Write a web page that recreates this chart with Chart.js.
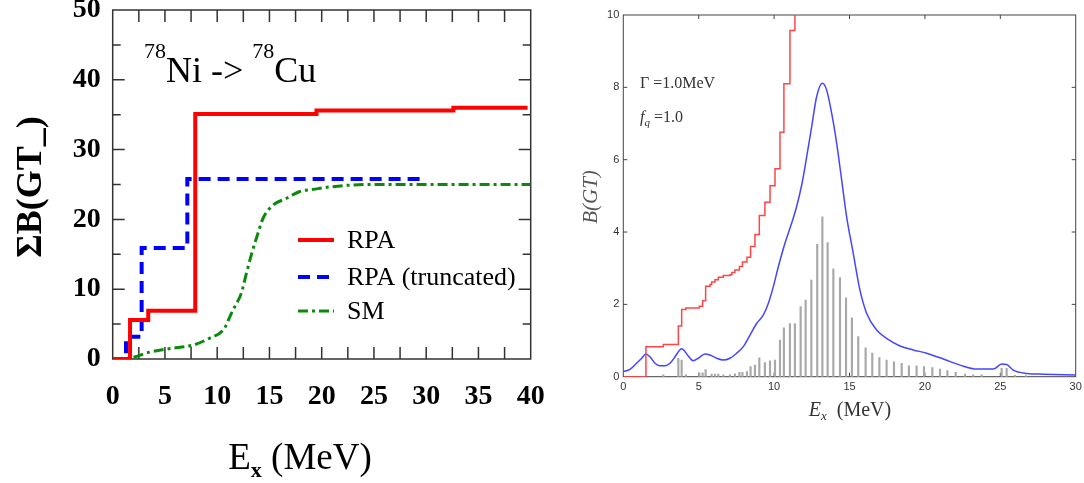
<!DOCTYPE html>
<html>
<head>
<meta charset="utf-8">
<title>78Ni GT strength</title>
<script src="https://cdn.jsdelivr.net/npm/chart.js@4.4.1/dist/chart.umd.min.js"></script>
<style>
  html, body { margin: 0; padding: 0; background: #fff; }
  #wrap { position: relative; width: 1084px; height: 483px; }
  .panel { position: absolute; top: 0; height: 483px; }
  #left { left: 0; width: 560px; }
  #right { left: 560px; width: 524px; }
</style>
</head>
<body>
<div id="wrap">
  <div class="panel" id="left"><canvas id="sumChart"></canvas></div>
  <div class="panel" id="right"><canvas id="gtChart"></canvas></div>
</div>
<script>
"use strict"

// left panel, running sum of B(GT-), steps: value jumps to Y at X
const rpaX = [0, 1.66, 3.4, 7.9, 19.5, 32.6, 39.7]
const rpaY = [0, 5.6, 6.9, 35.1, 35.6, 36.0, 36.0]
const truncX = [0, 1.27, 2.77, 7.14, 29.4]
const truncY = [0, 3.2, 15.9, 25.8, 25.8]
const smX = [0, 1.5, 3.6, 5.5, 7.7, 9.3, 10.6, 11.5, 12.3, 12.8, 13.3, 13.9, 14.4, 15.4, 16.6, 17.9, 19.2, 20.5, 24.3, 40]
const smY = [0, 0.1, 1.0, 1.5, 2.0, 3.0, 4.2, 7.0, 9.4, 12.3, 15.1, 18.0, 20.2, 22.1, 23.0, 24.0, 24.3, 24.6, 25.0, 25.0]
const sumLabels = ["RPA", "RPA (truncated)", "SM"]

// right panel, discrete B(GT) lines
const lineX = [2.65, 3.65, 3.87, 4.15, 5.04, 5.26, 5.46, 5.86, 6.08, 6.3, 6.63, 7.07, 7.4, 7.7, 7.9, 8.2, 8.44, 8.73, 9.02, 9.39,
  9.73, 10.06, 10.39, 10.65, 11.05, 11.38, 11.76, 12.09, 12.47, 12.86, 13.2, 13.55, 13.93, 14.37, 14.77, 15.16, 15.58, 16.07, 16.51, 16.98,
  17.46, 17.95, 18.46, 18.94, 19.45, 19.94, 20.49, 21.0, 21.49, 22.04, 22.66, 23.2, 23.76, 25.09, 25.42, 25.97, 26.7]
const lineY = [0.05, 0.51, 0.46, 0.05, 0.11, 0.11, 0.2, 0.07, 0.07, 0.07, 0.05, 0.05, 0.08, 0.12, 0.12, 0.14, 0.28, 0.32, 0.52, 0.39,
  0.44, 0.46, 1.01, 1.35, 1.47, 1.46, 1.94, 2.12, 2.67, 3.66, 4.42, 3.71, 2.98, 2.74, 2.18, 1.63, 1.11, 0.8, 0.65, 0.53,
  0.46, 0.41, 0.37, 0.3, 0.3, 0.28, 0.25, 0.21, 0.17, 0.12, 0.07, 0.05, 0.05, 0.23, 0.23, 0.04, 0.03]

// cumulative (red) — runs off the top of the frame
const cumX = [0, 1.5, 2.65, 3.65, 3.87, 4.15, 5.04, 5.26, 5.46, 5.75, 5.86, 6.08, 6.3, 6.63, 7.07, 7.2, 7.4, 7.7, 7.9, 8.2,
  8.44, 8.73, 9.02, 9.39, 9.73, 10.06, 10.39, 10.65, 11.05, 11.38]
const cumY = [0, 0.83, 0.89, 1.4, 1.86, 1.9, 1.95, 2.1, 2.5, 2.55, 2.62, 2.68, 2.75, 2.8, 2.82, 2.88, 2.95, 3.05, 3.17, 3.3,
  3.6, 3.93, 4.46, 4.82, 5.28, 5.75, 6.76, 8.1, 9.57, 11.5]

// folded with Gamma = 1.0 MeV (blue)
const foldX = [0, 0.44, 0.88, 1.22, 1.5, 1.77, 2.1, 2.43, 2.76, 3.1, 3.43, 3.7, 3.87, 4.05, 4.31, 4.64, 4.97, 5.42, 5.75, 6.19,
  6.63, 7.07, 7.52, 7.96, 8.4, 8.84, 9.28, 9.62, 9.95, 10.28, 10.72, 11.16, 11.49, 11.83, 12.16, 12.49, 12.82, 13.2, 13.48, 13.82,
  14.15, 14.48, 14.81, 15.25, 15.69, 16.14, 16.8, 17.46, 18.35, 19.23, 20.11, 21.22, 22.33, 23.43, 24.54, 25.09, 25.42, 25.86, 26.75, 27.85, 30]
const foldY = [0.14, 0.2, 0.37, 0.51, 0.63, 0.55, 0.37, 0.3, 0.3, 0.37, 0.55, 0.72, 0.77, 0.72, 0.57, 0.44, 0.51, 0.63, 0.6, 0.51,
  0.46, 0.51, 0.65, 0.83, 1.15, 1.47, 1.7, 2.03, 2.49, 3.04, 3.69, 4.24, 4.7, 5.3, 6.08, 6.91, 7.74, 8.11, 7.93, 7.28,
  6.45, 5.44, 4.42, 3.41, 2.4, 1.75, 1.29, 1.06, 0.85, 0.74, 0.65, 0.49, 0.32, 0.21, 0.21, 0.35, 0.34, 0.18, 0.09, 0.07, 0.05]

const SERIF = "'Liberation Serif', 'Times New Roman', serif"
const SANS = "'Liberation Sans', Arial, sans-serif"

function points(xs, ys) {
  return xs.map((x, i) => ({x: x, y: ys[i]}))
}

// fixed axis size, and no extra room asked for the end labels
function fixSize(w, h) {
  return function(s) {
    if (w) s.width = w
    if (h) s.height = h
    s.paddingTop = 0
    s.paddingBottom = 0
    s.paddingLeft = 0
    s.paddingRight = 0
  }
}

// draws text pieces one after another, each with its own font and baseline shift
function richText(ctx, parts, x, y, align) {
  let w = 0
  parts.forEach(p => { ctx.font = p[1]; w += ctx.measureText(p[0]).width })
  let cx = align === "center" ? x - w / 2 : x
  ctx.textAlign = "left"
  ctx.textBaseline = "alphabetic"
  parts.forEach(p => {
    ctx.font = p[1]
    ctx.fillText(p[0], cx, y + (p[2] || 0))
    cx += ctx.measureText(p[0]).width
  })
}

// box round the plot area with ticks pointing inwards on all four sides
function drawFrame(chart, st) {
  const ctx = chart.ctx
  const a = chart.chartArea
  const xs = chart.scales.x
  const ys = chart.scales.y
  ctx.save()
  ctx.strokeStyle = st.color
  ctx.lineWidth = st.width
  ctx.strokeRect(a.left, a.top, a.right - a.left, a.bottom - a.top)
  ctx.beginPath()
  for (let v = xs.min + st.xStep; v < xs.max; v += st.xStep) {
    const px = xs.getPixelForValue(v)
    ctx.moveTo(px, a.bottom); ctx.lineTo(px, a.bottom - st.xLen)
    ctx.moveTo(px, a.top); ctx.lineTo(px, a.top + st.xLen)
  }
  for (let v = ys.min + st.yStep; v < ys.max; v += st.yStep) {
    const py = ys.getPixelForValue(v)
    const len = (v % st.yMajor === 0) ? st.yLen : st.yMinorLen
    ctx.moveTo(a.left, py); ctx.lineTo(a.left + len, py)
    ctx.moveTo(a.right, py); ctx.lineTo(a.right - len, py)
  }
  ctx.stroke()
  ctx.restore()
}

const sumDecor = {
  id: "sumDecor",
  beforeDatasetsDraw(chart) {
    drawFrame(chart, {color: "#333", width: 1.5, xStep: 2.5, xLen: 12, yStep: 5, yMajor: 10, yLen: 12, yMinorLen: 8})
  },
  afterDraw(chart) {
    const ctx = chart.ctx
    ctx.save()
    ctx.fillStyle = "#000"
    richText(ctx, [["78", "22px " + SERIF, -24], ["Ni", "36px " + SERIF], [" -> ", "36px " + SERIF],
      ["78", "22px " + SERIF, -24], ["Cu", "36px " + SERIF]], 144, 82)
    richText(ctx, [["E", "37px " + SERIF], ["x", "bold 22px " + SERIF, 8], [" (MeV)", "37px " + SERIF]], 300, 469, "center")

    ctx.save()
    ctx.translate(32, 187)
    ctx.rotate(-Math.PI / 2)
    ctx.font = "bold 36px " + SERIF
    ctx.textAlign = "center"
    ctx.textBaseline = "middle"
    ctx.fillText("ΣB(GT_)", 0, 0)
    ctx.restore()

    // legend
    const rows = [240, 277, 311]
    chart.data.datasets.forEach((ds, i) => {
      ctx.beginPath()
      ctx.strokeStyle = ds.borderColor
      ctx.lineWidth = ds.borderWidth
      ctx.setLineDash(ds.borderDash || [])
      ctx.moveTo(298, rows[i])
      ctx.lineTo(334, rows[i])
      ctx.stroke()
      ctx.setLineDash([])
      ctx.font = "26px " + SERIF
      ctx.textAlign = "left"
      ctx.textBaseline = "middle"
      ctx.fillText(ds.label, 347, rows[i] + 1)
    })
    ctx.restore()
  }
}

const gtDecor = {
  id: "gtDecor",
  beforeDatasetsDraw(chart) {
    drawFrame(chart, {color: "#444", width: 1, xStep: 5, xLen: 4, yStep: 2, yMajor: 2, yLen: 4, yMinorLen: 4})
  },
  afterDraw(chart) {
    const ctx = chart.ctx
    ctx.save()
    ctx.fillStyle = "#333"
    richText(ctx, [["Γ =1.0MeV", "16px " + SERIF]], 80, 88)
    richText(ctx, [["f", "italic 16px " + SERIF], ["q", "italic 11px " + SERIF, 4], [" =1.0", "16px " + SERIF]], 80, 122)
    richText(ctx, [["E", "italic 20px " + SERIF], ["x", "italic 13px " + SERIF, 4], ["  (MeV)", "20px " + SERIF]], 290, 416, "center")

    ctx.translate(31, 197)
    ctx.rotate(-Math.PI / 2)
    ctx.fillStyle = "#555"
    ctx.font = "italic 21px " + SERIF
    ctx.textAlign = "center"
    ctx.textBaseline = "middle"
    ctx.fillText("B(GT)", 0, 0)
    ctx.restore()
  }
}

const sumChart = new Chart(document.getElementById("sumChart"), {
  type: "line",
  data: {
    datasets: [
      {label: sumLabels[0], data: points(rpaX, rpaY), stepped: true, borderColor: "#ff0000", borderWidth: 4, pointRadius: 0},
      {label: sumLabels[1], data: points(truncX, truncY), stepped: true, borderColor: "#0000ff", borderWidth: 4,
        borderDash: [12, 7], pointRadius: 0},
      {label: sumLabels[2], data: points(smX, smY), cubicInterpolationMode: "monotone", borderColor: "#0a8a0a", borderWidth: 3,
        borderDash: [10, 4, 3, 4], pointRadius: 0}
    ]
  },
  options: {
    responsive: true,
    maintainAspectRatio: false,
    animation: false,
    layout: {padding: {left: 0, right: 29.3, top: 10, bottom: 0}},
    plugins: {legend: {display: false}, tooltip: {enabled: false}},
    scales: {
      x: {
        type: "linear", min: 0, max: 40, offset: false,
        grid: {display: false, drawTicks: false}, border: {display: false},
        ticks: {stepSize: 5, padding: 21, color: "#000", maxRotation: 0,
          font: {family: SERIF, size: 28, weight: "bold"}},
        afterFit: fixSize(0, 124)
      },
      y: {
        min: 0, max: 50,
        grid: {display: false, drawTicks: false}, border: {display: false},
        ticks: {stepSize: 10, padding: 12, color: "#000",
          font: {family: SERIF, size: 28, weight: "bold"}},
        afterFit: fixSize(112.7, 0)
      }
    }
  },
  plugins: [sumDecor]
})

const gtChart = new Chart(document.getElementById("gtChart"), {
  type: "line",
  data: {
    datasets: [
      {label: "cumulative", data: points(cumX, cumY), stepped: true, borderColor: "#ff4545", borderWidth: 1.5, pointRadius: 0},
      {label: "folded", data: points(foldX, foldY), cubicInterpolationMode: "monotone", borderColor: "#4545ff", borderWidth: 1.5, pointRadius: 0},
      {type: "bar", label: "B(GT)", data: points(lineX, lineY), backgroundColor: "#a8a8a8", barThickness: 1.5, grouped: false}
    ]
  },
  options: {
    responsive: true,
    maintainAspectRatio: false,
    animation: false,
    layout: {padding: {left: 0, right: 8.3, top: 15, bottom: 0}},
    plugins: {legend: {display: false}, tooltip: {enabled: false}},
    scales: {
      x: {
        type: "linear", min: 0, max: 30, offset: false,
        grid: {display: false, drawTicks: false, offset: false}, border: {display: false},
        ticks: {stepSize: 5, padding: 4, color: "#333", maxRotation: 0, font: {family: SANS, size: 11}},
        afterFit: fixSize(0, 106.3)
      },
      y: {
        min: 0, max: 10,
        grid: {display: false, drawTicks: false}, border: {display: false},
        ticks: {stepSize: 2, padding: 4, color: "#333", font: {family: SANS, size: 11}},
        afterFit: fixSize(63.3, 0)
      }
    }
  },
  plugins: [gtDecor]
})
</script>
</body>
</html>
